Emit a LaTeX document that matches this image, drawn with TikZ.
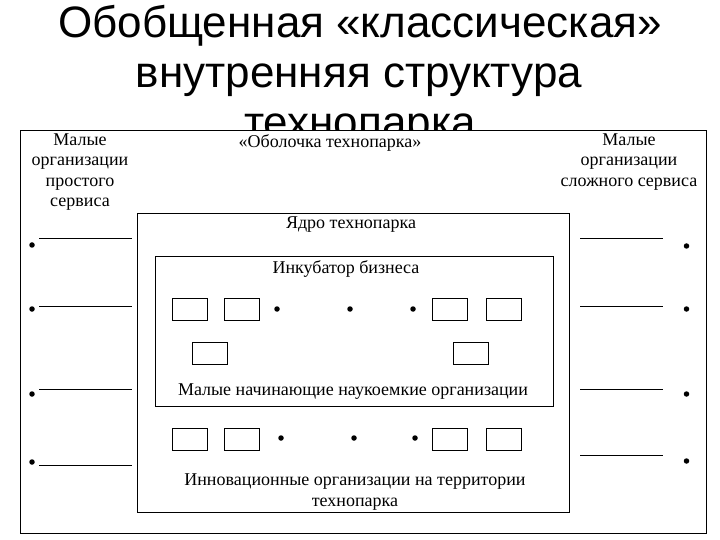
\documentclass[tikz,border=0pt]{standalone}
\usepackage{fontspec}
\setmainfont{Liberation Serif}
\newfontfamily\titlefont{Liberation Sans}
\begin{document}
\begin{tikzpicture}[x=1bp,y=-1bp,
  frame/.style={draw=black, line width=1bp, fill=white, inner sep=0pt, outer sep=0pt, anchor=north west},
  sbox/.style={draw=black, line width=1bp, minimum width=35bp, minimum height=22bp, inner sep=0pt},
  dot/.style={circle, fill=black, inner sep=0pt, minimum size=5.5bp},
  lbl/.style={font=\fontsize{18bp}{20.5bp}\selectfont, align=center, inner sep=0pt},
  ttl/.style={font=\titlefont\fontsize{44bp}{53bp}\selectfont, anchor=base, inner sep=0pt},
  rule/.style={line width=1bp}]
\useasboundingbox (0,0) rectangle (720,540);
% title
\node[ttl] (t1) at (360,38) {Обобщенная «классическая»};
\node[ttl] (t2) at (359,88) {внутренняя структура};
\begin{scope}
\clip (0,0) rectangle (720,131);
\node[ttl] (t3) at (360,138) {технопарка};
\end{scope}
% shell
\node[frame, minimum width=686bp, minimum height=402bp] (shell) at (20,131) {};
\node[lbl] (lsimple) at (80,172) {Малые\\организации\\простого\\сервиса};
\node[lbl] (lcomplex) at (629,162) {Малые\\организации\\сложного сервиса};
\node[lbl] (lshell) at (330,143) {«Оболочка технопарка»};
% core
\node[frame, minimum width=432bp, minimum height=298bp] (core) at (137,214) {};
\node[lbl] (lcore) at (351,225) {Ядро технопарка};
% incubator
\node[frame, minimum width=398bp, minimum height=149bp] (incub) at (155,257) {};
\node[lbl] (lincub) at (346,269) {Инкубатор бизнеса};
% row 1
\node[sbox] (a1) at (189.5,309.5) {};
\node[sbox] (a2) at (242,309.5) {};
\node[dot] (ad1) at (277,309) {};
\node[dot] (ad2) at (350,309) {};
\node[dot] (ad3) at (413,309) {};
\node[sbox] (a3) at (450,309.5) {};
\node[sbox] (a4) at (504,309.5) {};
% row 2
\node[sbox] (b1) at (209.5,353) {};
\node[sbox] (b2) at (470.5,353) {};
\node[lbl] (lsmall) at (353,392) {Малые начинающие наукоемкие организации};
% row 3
\node[sbox] (c1) at (189.5,439) {};
\node[sbox] (c2) at (242,439) {};
\node[dot] (cd1) at (281,438) {};
\node[dot] (cd2) at (354,438) {};
\node[dot] (cd3) at (415,438) {};
\node[sbox] (c3) at (450,439) {};
\node[sbox] (c4) at (504,439) {};
\node[lbl] (linnov) at (355,492) {Инновационные организации на территории\\технопарка};
% left side
\foreach \i/\ly/\dy in {1/239/245, 2/306/309, 3/389/394, 4/465/462} {
  \node[dot] (ld\i) at (32,\dy) {};
  \coordinate (la\i) at (39,\ly);
  \coordinate (lb\i) at (132,\ly);
  \draw[rule] (la\i) -- (lb\i);
}
% right side
\foreach \i/\ly/\dy in {1/239/246, 2/306/309, 3/389/394, 4/455/461} {
  \node[dot] (rd\i) at (686.5,\dy) {};
  \coordinate (ra\i) at (580,\ly);
  \coordinate (rb\i) at (663,\ly);
  \draw[rule] (ra\i) -- (rb\i);
}
\end{tikzpicture}
\end{document}
